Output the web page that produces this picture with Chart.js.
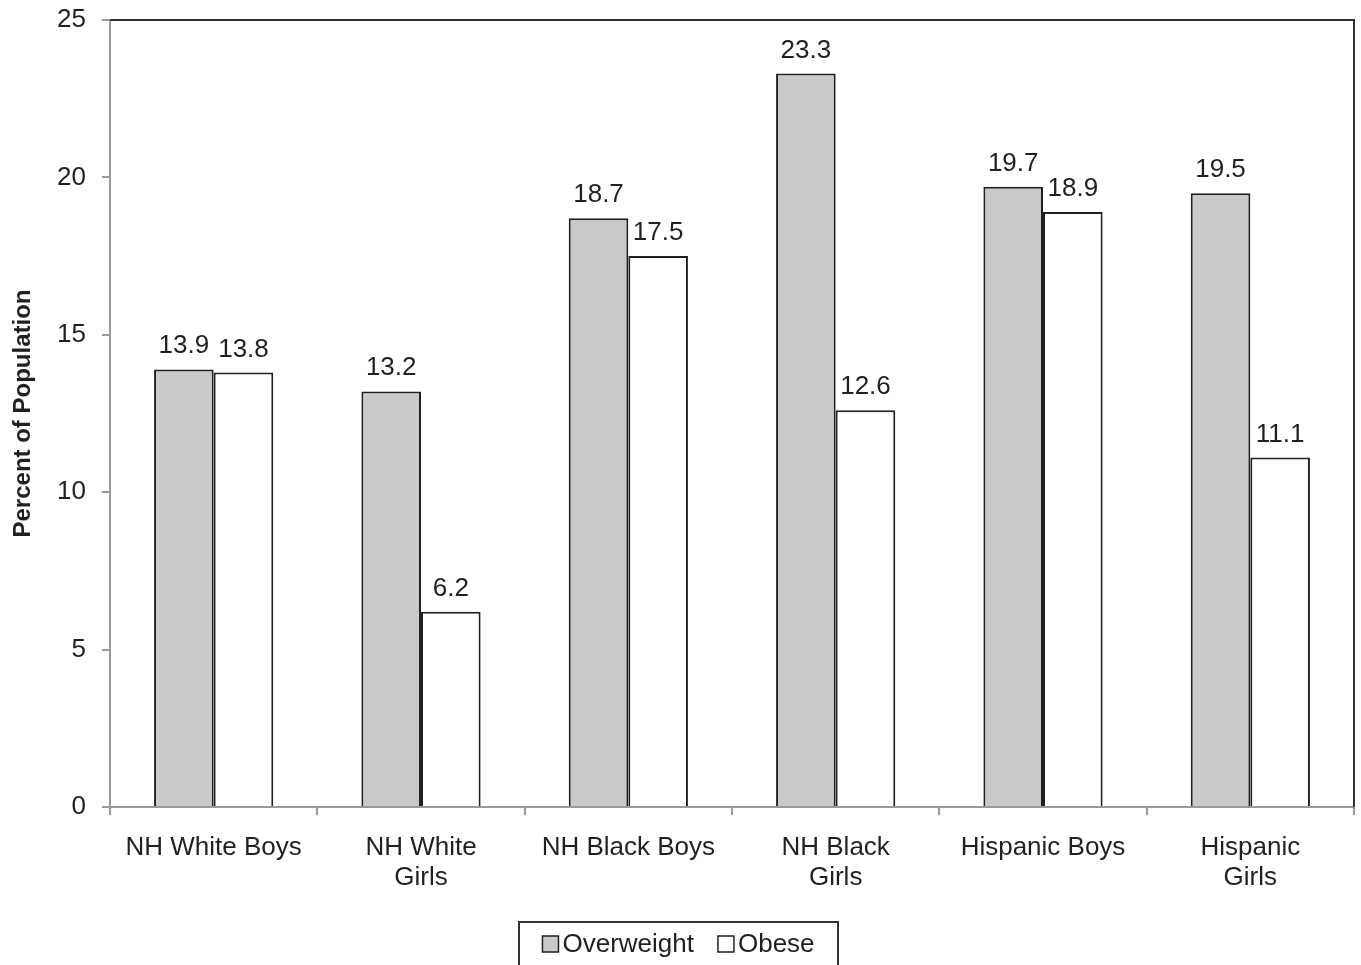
<!DOCTYPE html>
<html>
<head>
<meta charset="utf-8">
<script src="https://cdn.jsdelivr.net/npm/chart.js@4/dist/chart.umd.min.js"></script>
<style>
  body { margin: 0; background: #fff; }
  #wrap { width: 1361px; height: 965px; position: relative; }
</style>
</head>
<body>
<div id="wrap"><canvas id="grafico"></canvas></div>
<script>
const categorias = [
    'NH White Boys',
    ['NH White', 'Girls'],
    'NH Black Boys',
    ['NH Black', 'Girls'],
    'Hispanic Boys',
    ['Hispanic', 'Girls']
];
const sobrepeso = [13.9, 13.2, 18.7, 23.3, 19.7, 19.5];
const obesos = [13.8, 6.2, 17.5, 12.6, 18.9, 11.1];
const ticksY = [0, 5, 10, 15, 20, 25];

const corTexto = '#231f20';
const fonte = '"Liberation Sans", Arial, sans-serif';

// rotulos de valor em cima das barras
const pluginRotulos = {
    id: 'rotulos',
    afterDatasetsDraw(chart) {
        const ctx = chart.ctx;
        ctx.save();
        ctx.font = '26px ' + fonte;
        ctx.fillStyle = corTexto;
        ctx.textAlign = 'center';
        ctx.textBaseline = 'alphabetic';
        chart.data.datasets.forEach(function (ds, i) {
            const meta = chart.getDatasetMeta(i);
            meta.data.forEach(function (barra, j) {
                ctx.fillText(ds.data[j].toFixed(1), barra.x, barra.y - 16);
            });
        });
        ctx.restore();
    }
};

// borda de cima/direita + legenda com caixa
const pluginMoldura = {
    id: 'moldura',
    afterDraw(chart) {
        const ctx = chart.ctx;
        const area = chart.chartArea;
        ctx.save();
        ctx.strokeStyle = '#333';
        ctx.lineWidth = 2;
        ctx.beginPath();
        ctx.moveTo(area.left, area.top);
        ctx.lineTo(area.right, area.top);
        ctx.lineTo(area.right, area.bottom);
        ctx.stroke();

        // legenda
        ctx.font = '26px ' + fonte;
        const caixa = 16, gap = 4, espaco = 24;
        const itens = chart.data.datasets.map(function (ds) {
            return { ds: ds, w: caixa + gap + ctx.measureText(ds.label).width };
        });
        let total = itens.reduce(function (s, it) { return s + it.w; }, 0) + espaco * (itens.length - 1);
        const cy = 944;
        const bx = 519, bw = 319;
        ctx.strokeStyle = '#333';
        ctx.lineWidth = 2;
        ctx.strokeRect(bx, 922, bw, 50);
        let x = bx + (bw - total) / 2;
        ctx.textBaseline = 'middle';
        ctx.textAlign = 'left';
        itens.forEach(function (it) {
            ctx.fillStyle = it.ds.backgroundColor;
            ctx.fillRect(x, cy - caixa / 2, caixa, caixa);
            ctx.lineWidth = 1.5;
            ctx.strokeStyle = corTexto;
            ctx.strokeRect(x, cy - caixa / 2, caixa, caixa);
            ctx.fillStyle = corTexto;
            ctx.fillText(it.ds.label, x + caixa + gap, cy + 1);
            x += it.w + espaco;
        });
        ctx.restore();
    }
};

const config = {
    type: 'bar',
    data: {
        labels: categorias,
        datasets: [{
            label: 'Overweight',
            data: sobrepeso,
            backgroundColor: '#c8c9cb',
            borderColor: corTexto,
            borderWidth: 2,
            borderSkipped: 'bottom',
            categoryPercentage: 0.575,
            barPercentage: 1.0
        },
        {
            label: 'Obese',
            data: obesos,
            backgroundColor: '#ffffff',
            borderColor: corTexto,
            borderWidth: 2,
            borderSkipped: 'bottom',
            categoryPercentage: 0.575,
            barPercentage: 1.0
        }]
    },
    options: {
        responsive: true,
        maintainAspectRatio: false,
        animation: false,
        layout: {
            padding: { top: 20, right: 7, left: 0, bottom: 75 }
        },
        plugins: {
            legend: { display: false },
            tooltip: { enabled: false }
        },
        scales: {
            x: {
                grid: {
                    drawOnChartArea: false,
                    drawTicks: true,
                    tickLength: 8,
                    color: '#9a9a9a',
                    lineWidth: 2
                },
                border: { color: '#9a9a9a', width: 2 },
                ticks: {
                    color: corTexto,
                    font: { family: fonte, size: 26, lineHeight: 1.16 },
                    padding: 18,
                    maxRotation: 0,
                    autoSkip: false
                },
                afterFit(escala) {
                    escala.height = 83;
                    escala.paddingLeft = 0;
                    escala.paddingRight = 0;
                }
            },
            y: {
                min: 0,
                max: 25,
                afterBuildTicks(escala) {
                    escala.ticks = ticksY.map(function (v) { return { value: v }; });
                },
                grid: {
                    drawOnChartArea: false,
                    drawTicks: true,
                    tickLength: 8,
                    color: '#9a9a9a',
                    lineWidth: 2
                },
                border: { color: '#9a9a9a', width: 2 },
                ticks: {
                    color: corTexto,
                    font: { family: fonte, size: 26 },
                    padding: 16
                },
                title: {
                    display: true,
                    text: 'Percent of Population',
                    color: corTexto,
                    font: { family: fonte, size: 24, weight: 'bold' },
                    padding: { top: 9, bottom: 0 }
                },
                afterFit(escala) {
                    escala.width = 110;
                    escala.paddingTop = 0;
                    escala.paddingBottom = 0;
                }
            }
        }
    },
    plugins: [pluginRotulos, pluginMoldura]
};

new Chart(document.getElementById('grafico'), config);
</script>
</body>
</html>
